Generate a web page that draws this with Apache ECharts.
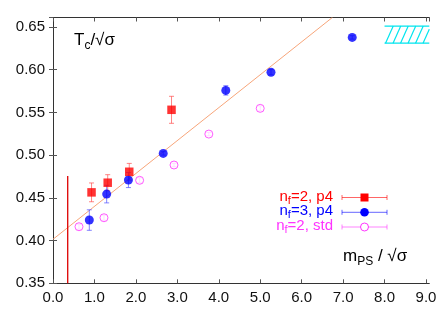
<!DOCTYPE html>
<html><head><meta charset="utf-8">
<script src="https://cdn.jsdelivr.net/npm/echarts@6/dist/echarts.min.js"></script>
<style>html,body{margin:0;padding:0;background:#fff}#c{width:447px;height:313px}</style>
</head><body><div id="c"></div>
<script>
// ---- data ----
const xTicks = [0, 1, 2, 3, 4, 5, 6, 7, 8, 9];
const yTicks = [0.35, 0.40, 0.45, 0.50, 0.55, 0.60, 0.65];

const p4nf2_x = [0.93, 1.32, 1.84, 2.86];
const p4nf2_y = [0.4564, 0.4677, 0.4805, 0.553];
const p4nf2_e = [0.011, 0.0094, 0.0098, 0.0158];

const p4nf3_x = [0.876, 1.295, 1.82, 2.66, 4.17, 5.26, 7.22];
const p4nf3_y = [0.424, 0.4544, 0.4708, 0.502, 0.5757, 0.597, 0.6377];
const p4nf3_e = [0.012, 0.0103, 0.0088, 0.002, 0.0055, 0.003, 0.002];

const std_x = [0.627, 1.23, 2.09, 2.92, 3.76, 5.0];
const std_y = [0.4162, 0.4267, 0.4705, 0.4884, 0.5246, 0.5547];
const std_e = [0.003, 0.003, 0.003, 0.002, 0.002, 0.003];

const fit_x = [0, 6.74];
const fit_y = [0.4015, 0.661];

const vline_x = [0.355, 0.355];
const vline_y = [0.35, 0.4755];

const band_x = [8.0, 9.08];
const band_y = [0.631, 0.651];

const legendLabels = [['2', ', p4'], ['3', ', p4'], ['2', ', std']];

// ---- chart ----
const XMIN = 0, XMAX = 9.08, YMIN = 0.35, YMAX = 0.661;
const RED = '#ff0000', BLUE = '#0000ff', MAG = '#ff33ff';
const FONT = 'Liberation Sans, Arial, sans-serif';

function zip(xs, ys) { return xs.map((x, i) => [x, ys[i]]); }
function errData(xs, ys, es) { return xs.map((x, i) => [x, ys[i] - es[i], ys[i] + es[i]]); }

function errSeries(xs, ys, es, color) {
  return {
    type: 'custom', xAxisIndex: 0, yAxisIndex: 0, z: 2, silent: true,
    data: errData(xs, ys, es),
    renderItem: function (params, api) {
      const lo = api.coord([api.value(0), api.value(1)]);
      const hi = api.coord([api.value(0), api.value(2)]);
      const c = 2.5;
      return {
        type: 'group', children: [
          { type: 'line', shape: { x1: lo[0], y1: lo[1], x2: hi[0], y2: hi[1] }, style: { stroke: color, lineWidth: 1 } },
          { type: 'line', shape: { x1: lo[0] - c, y1: lo[1], x2: lo[0] + c, y2: lo[1] }, style: { stroke: color, lineWidth: 1 } },
          { type: 'line', shape: { x1: hi[0] - c, y1: hi[1], x2: hi[0] + c, y2: hi[1] }, style: { stroke: color, lineWidth: 1 } }
        ]
      };
    }
  };
}

const bandSeries = {
  type: 'custom', silent: true, z: 3,
  data: [[band_x[0], band_y[0], band_x[1], band_y[1]]],
  renderItem: function (params, api) {
    const p0 = api.coord([api.value(0), api.value(1)]);
    const p1 = api.coord([api.value(2), api.value(3)]);
    const x0 = Math.min(p0[0], p1[0]), x1 = Math.max(p0[0], p1[0]);
    const yTop = Math.min(p0[1], p1[1]), yBot = Math.max(p0[1], p1[1]);
    const h = yBot - yTop;
    const sp = 7.5, skew = h * 0.45;
    const kids = [
      { type: 'line', shape: { x1: x0, y1: yTop, x2: x1, y2: yTop }, style: { stroke: '#00e5ee', lineWidth: 1.2 } },
      { type: 'line', shape: { x1: x0, y1: yBot, x2: x1, y2: yBot }, style: { stroke: '#00e5ee', lineWidth: 1.2 } }
    ];
    for (let xs = x0 + 1; xs < x1 + skew; xs += sp) {
      let xa = xs, ya = yBot, xb = xs + skew, yb = yTop;
      if (xb > x1) { const t = (x1 - xa) / skew; xb = x1; yb = yBot - t * h; }
      if (xa >= x1) continue;
      kids.push({ type: 'line', shape: { x1: xa, y1: ya, x2: xb, y2: yb }, style: { stroke: '#00e5ee', lineWidth: 1.2 } });
    }
    return { type: 'group', children: kids };
  }
};

function legendRow(y, color, labelParts, symbol, hollow) {
  const lx0 = 342, lx1 = 387, mx = 364.5;
  const children = [
    { type: 'text', x: 333, y: y, style: {
        text: '{a|n}{s|f}{a|=' + labelParts[0] + labelParts[1] + '}',
        align: 'right', verticalAlign: 'middle', fill: color,
        rich: {
          a: { fontSize: 15, fontFamily: FONT, fill: color, lineHeight: 17, verticalAlign: 'top' },
          s: { fontSize: 11, fontFamily: FONT, fill: color, lineHeight: 17, verticalAlign: 'bottom' }
        }
    } },
    { type: 'line', shape: { x1: lx0, y1: y, x2: lx1, y2: y }, style: { stroke: color, lineWidth: 1, opacity: 0.6 } },
    { type: 'line', shape: { x1: lx0, y1: y - 2.5, x2: lx0, y2: y + 2.5 }, style: { stroke: color, lineWidth: 1, opacity: 0.6 } },
    { type: 'line', shape: { x1: lx1, y1: y - 2.5, x2: lx1, y2: y + 2.5 }, style: { stroke: color, lineWidth: 1, opacity: 0.6 } }
  ];
  if (symbol === 'rect') children.push({ type: 'rect', shape: { x: mx - 4, y: y - 4, width: 8, height: 8 }, style: { fill: color } });
  else if (hollow) children.push({ type: 'circle', shape: { cx: mx, cy: y, r: 4 }, style: { fill: '#fff', stroke: color, lineWidth: 1 } });
  else children.push({ type: 'circle', shape: { cx: mx, cy: y, r: 4.3 }, style: { fill: color } });
  return { type: 'group', children: children };
}

const axisCommon = {
  axisLine: { show: true, lineStyle: { color: '#333', width: 1 } },
  axisTick: { show: true, inside: true, length: 4, lineStyle: { color: '#555' } },
  splitLine: { show: false }
};

const option = {
  animation: false,
  backgroundColor: '#fff',
  grid: { left: 53, right: 17.7, top: 17.5, bottom: 29.7, containLabel: false },
  xAxis: [
    Object.assign({ type: 'value', position: 'bottom', min: XMIN, max: XMAX, interval: 1,
      axisLabel: { show: true, showMaxLabel: false, margin: 7, fontSize: 15, fontFamily: FONT, color: '#111', formatter: v => v.toFixed(1) } }, axisCommon),
    Object.assign({ type: 'value', position: 'top', min: XMIN, max: XMAX, interval: 1, axisLabel: { show: false } }, axisCommon)
  ],
  yAxis: [
    Object.assign({ type: 'value', position: 'left', min: YMIN, max: YMAX, interval: 0.05,
      axisLabel: { show: true, showMaxLabel: false, margin: 8, fontSize: 15, fontFamily: FONT, color: '#111', formatter: v => v.toFixed(2) } }, axisCommon),
    Object.assign({ type: 'value', position: 'right', min: YMIN, max: YMAX, interval: 0.05, axisLabel: { show: false } }, axisCommon)
  ],
  series: [
    { type: 'line', data: zip(fit_x, fit_y), symbol: 'none', lineStyle: { color: '#f7a57a', width: 1 }, z: 1, silent: true },
    { type: 'line', data: zip(vline_x, vline_y), symbol: 'none', lineStyle: { color: '#dd0000', width: 1.3 }, z: 1, silent: true },
    bandSeries,
    errSeries(p4nf2_x, p4nf2_y, p4nf2_e, 'rgba(255,80,80,0.7)'),
    errSeries(p4nf3_x, p4nf3_y, p4nf3_e, 'rgba(80,80,255,0.7)'),
    errSeries(std_x, std_y, std_e, 'rgba(255,60,255,0.9)'),
    { type: 'scatter', data: zip(std_x, std_y), symbol: 'circle', symbolSize: 8, z: 4,
      itemStyle: { color: '#fff', borderColor: MAG, borderWidth: 1 } },
    { type: 'scatter', data: zip(p4nf3_x, p4nf3_y), symbol: 'circle', symbolSize: 9, z: 5, itemStyle: { color: BLUE } },
    { type: 'scatter', data: zip(p4nf2_x, p4nf2_y), symbol: 'rect', symbolSize: 8.5, z: 5, itemStyle: { color: RED } }
  ],
  graphic: [
    { type: 'text', left: 74, top: 32, style: {
        text: '{a|T}{s|c}{a|/√σ}', fill: '#000',
        rich: { a: { fontSize: 17, fontFamily: FONT, lineHeight: 20, verticalAlign: 'top' },
                s: { fontSize: 12, fontFamily: FONT, lineHeight: 20, verticalAlign: 'bottom' } } } },
    { type: 'text', left: 343, top: 248, style: {
        text: '{a|m}{s|PS}{a| / √σ}', fill: '#000',
        rich: { a: { fontSize: 17, fontFamily: FONT, lineHeight: 20, verticalAlign: 'top' },
                s: { fontSize: 12, fontFamily: FONT, lineHeight: 20, verticalAlign: 'bottom' } } } },
    legendRow(197.5, RED, legendLabels[0], 'rect', false),
    legendRow(212.3, BLUE, legendLabels[1], 'circle', false),
    legendRow(227, MAG, legendLabels[2], 'circle', true)
  ]
};

const chart = echarts.init(document.getElementById('c'), null, { renderer: 'canvas' });
chart.setOption(option);
</script>
</body></html>
